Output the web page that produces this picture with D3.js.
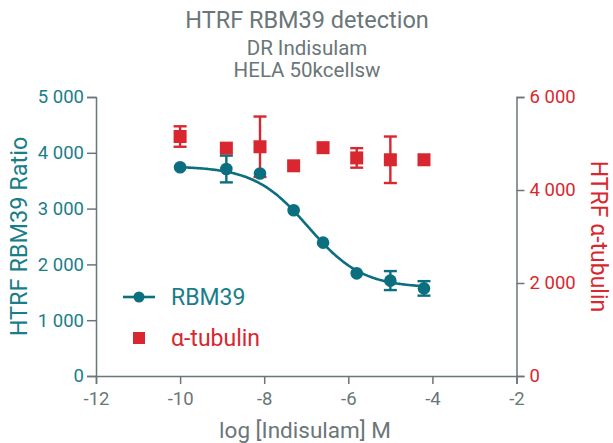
<!DOCTYPE html>
<html>
<head>
<meta charset="utf-8">
<script src="https://cdn.jsdelivr.net/npm/d3@7"></script>
<style>
  html, body { margin: 0; padding: 0; background: #fff; }
  svg { display: block; font-family: Roboto, "Liberation Sans", sans-serif; }
</style>
</head>
<body>
<svg id="chart" width="613" height="443"></svg>
<script>
// Dose series (log molar concentration of Indisulam)
const logConc = [-10, -8.9, -8.1, -7.3, -6.6, -5.8, -5.0, -4.2];

// HTRF RBM39 ratio: mean and error bar half-widths (0 = bar hidden by marker)
const rbm39 = [3740, 3710, 3630, 2970, 2390, 1840, 1710, 1570];
const rbm39Err = [0, 240, 0, 0, 0, 0, 170, 130];

// HTRF alpha-tubulin: mean and error bar half-widths
const tubulin = [5150, 4900, 4930, 4520, 4910, 4690, 4650, 4650];
const tubulinErr = [220, 0, 650, 0, 0, 210, 500, 0];

// Four-parameter logistic fit of the RBM39 series
const fitTop = 3760, fitBottom = 1580, fitLogIC50 = -6.95, fitHill = 0.68;

const xTicks = [-12, -10, -8, -6, -4, -2];
const yLeftTicks = [0, 1000, 2000, 3000, 4000, 5000];
const yRightTicks = [0, 2000, 4000, 6000];

const titleLines = ["HTRF RBM39 detection", "DR Indisulam", "HELA 50kcellsw"];

const TEAL = "#0b6f7f", TEAL_TEXT = "#1a7d8a", RED = "#d8272f", GREY = "#6a7678";

const svg = d3.select("#chart");
const fmtSp = v => String(v).replace(/\B(?=(\d{3})+(?!\d))/g, " ");

const x = d3.scaleLinear().domain([-12, -2]).range([96, 516.5]);
const yL = d3.scaleLinear().domain([0, 5000]).range([376, 97]);
const yR = d3.scaleLinear().domain([0, 6000]).range([376, 97]);

// Title
svg.append("g").selectAll("text").data(titleLines).join("text")
  .attr("x", 307).attr("y", (d, i) => [28, 55, 77][i])
  .attr("text-anchor", "middle")
  .attr("font-size", (d, i) => i === 0 ? 23.5 : 20.5)
  .attr("fill", GREY)
  .text(d => d);

// Axes
const axisX = svg.append("g").attr("transform", `translate(0,${yL(0)})`)
  .call(d3.axisBottom(x).tickValues(xTicks).tickSize(8).tickPadding(8).tickFormat(d => String(d)));
const axisL = svg.append("g").attr("transform", `translate(${x(-12)},0)`)
  .call(d3.axisLeft(yL).tickValues(yLeftTicks).tickSize(9).tickPadding(3).tickFormat(fmtSp));
const axisR = svg.append("g").attr("transform", `translate(${x(-2)},0)`)
  .call(d3.axisRight(yR).tickValues(yRightTicks).tickSize(8).tickPadding(5).tickFormat(fmtSp));

[axisX, axisL, axisR].forEach(g => {
  g.select(".domain").attr("stroke", GREY).attr("stroke-width", 1.5);
  g.selectAll(".tick line").attr("stroke", GREY).attr("stroke-width", 1.5);
  g.selectAll(".tick text").attr("font-size", 18.5).attr("font-family", "Roboto, sans-serif");
});
axisX.selectAll(".tick text").attr("fill", GREY);
axisL.selectAll(".tick text").attr("fill", TEAL_TEXT);
axisR.selectAll(".tick text").attr("fill", RED);

// Axis titles
svg.append("text")
  .attr("transform", `translate(27,${(yL(0) + yL(5000)) / 2}) rotate(-90)`)
  .attr("text-anchor", "middle").attr("font-size", 23.5).attr("fill", TEAL_TEXT)
  .text("HTRF RBM39 Ratio");
svg.append("text")
  .attr("transform", `translate(591,${(yR(0) + yR(6000)) / 2}) rotate(90)`)
  .attr("text-anchor", "middle").attr("font-size", 23).attr("fill", RED)
  .text("HTRF \u03b1-tubulin");
svg.append("text")
  .attr("x", 305).attr("y", 438)
  .attr("text-anchor", "middle").attr("font-size", 22.5).attr("fill", GREY)
  .text("log [Indisulam] M");

// Fitted curve for RBM39
const fit = v => fitBottom + (fitTop - fitBottom) / (1 + Math.pow(10, (v - fitLogIC50) * fitHill));
const curveX = d3.range(0, 201).map(i => logConc[0] + (logConc[logConc.length - 1] - logConc[0]) * i / 200);
svg.append("path")
  .datum(curveX)
  .attr("fill", "none").attr("stroke", TEAL).attr("stroke-width", 2.6)
  .attr("d", d3.line().x(d => x(d)).y(d => yL(fit(d))));

// Error bars
function errorBars(vals, errs, yScale, color) {
  const g = svg.append("g").attr("stroke", color).attr("stroke-width", 2.4);
  logConc.forEach((c, i) => {
    if (!errs[i]) return;
    const cx = x(c), y1 = yScale(vals[i] + errs[i]), y2 = yScale(vals[i] - errs[i]);
    g.append("line").attr("x1", cx).attr("x2", cx).attr("y1", y1).attr("y2", y2);
    g.append("line").attr("x1", cx - 6.5).attr("x2", cx + 6.5).attr("y1", y1).attr("y2", y1);
    g.append("line").attr("x1", cx - 6.5).attr("x2", cx + 6.5).attr("y1", y2).attr("y2", y2);
  });
}
errorBars(tubulin, tubulinErr, yR, RED);
errorBars(rbm39, rbm39Err, yL, TEAL);

// Markers
svg.append("g").selectAll("rect").data(logConc).join("rect")
  .attr("x", d => x(d) - 6.5).attr("y", (d, i) => yR(tubulin[i]) - 6.5)
  .attr("width", 13).attr("height", 13).attr("fill", RED);
svg.append("g").selectAll("circle").data(logConc).join("circle")
  .attr("cx", d => x(d)).attr("cy", (d, i) => yL(rbm39[i]))
  .attr("r", 6.3).attr("fill", TEAL);

// Legend
const lg = svg.append("g");
lg.append("line").attr("x1", 123).attr("x2", 155).attr("y1", 297).attr("y2", 297)
  .attr("stroke", TEAL).attr("stroke-width", 2.6);
lg.append("circle").attr("cx", 139).attr("cy", 297).attr("r", 5.5).attr("fill", TEAL);
lg.append("text").attr("x", 171).attr("y", 305).attr("font-size", 23).attr("fill", TEAL_TEXT).text("RBM39");
lg.append("rect").attr("x", 133).attr("y", 332).attr("width", 12).attr("height", 12).attr("fill", RED);
lg.append("text").attr("x", 171).attr("y", 346).attr("font-size", 23).attr("fill", RED).text("\u03b1-tubulin");
</script>
</body>
</html>
